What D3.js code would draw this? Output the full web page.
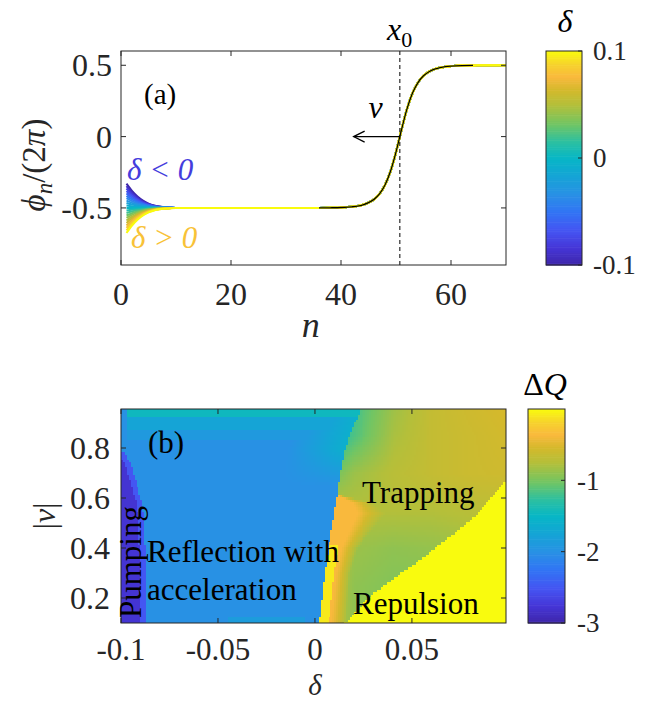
<!DOCTYPE html>
<html>
<head>
<meta charset="utf-8">
<script src="https://cdn.jsdelivr.net/npm/d3@7"></script>
<style>
  body { margin: 0; background: #fff; }
</style>
</head>
<body>
<div id="chart"></div>
<script>
// ---- panel (a): kink profile and the fan of curves near the edge ----
const nKink = [36, 38, 40, 42, 43, 44, 45, 46, 47, 48, 49, 50, 51, 52, 53, 54, 55, 56, 57, 58, 59, 60, 62, 64, 66, 68, 70];
const phiKink = [-0.500, -0.499, -0.497, -0.492, -0.487, -0.478, -0.463, -0.440, -0.401, -0.339, -0.243, -0.109,
  0.048, 0.194, 0.305, 0.379, 0.426, 0.455, 0.473, 0.483, 0.490, 0.494, 0.498, 0.499, 0.500, 0.500, 0.500];
const nFan = [1, 2, 3, 4, 5, 6, 7, 8, 9, 10];
const fanShape = [1, 0.70, 0.47, 0.30, 0.18, 0.10, 0.055, 0.03, 0.012, 0];
const deltas = [-0.1, -0.09, -0.08, -0.07, -0.06, -0.05, -0.04, -0.03, -0.02, -0.01, 0,
  0.01, 0.02, 0.03, 0.04, 0.05, 0.06, 0.07, 0.08, 0.09, 0.1];
const fanStart = [0.170, 0.153, 0.136, 0.119, 0.102, 0.085, 0.068, 0.051, 0.034, 0.017, 0,
  -0.018, -0.035, -0.053, -0.070, -0.088, -0.105, -0.123, -0.140, -0.158, -0.176];
const x0 = 50.7;
const arrowEnd = 42.3;

// ---- panel (b): region edges (v -> delta) and levels of dQ ----
const pumpEdge = [[0.1, -0.090], [0.35, -0.090], [0.57, -0.0917], [0.66, -0.095], [0.74, -0.098], [0.78, -0.101]];
const reflectEdge = [[0.1, 0.0022], [0.25, 0.0043], [0.37, 0.0063], [0.49, 0.0089], [0.61, 0.0115],
  [0.70, 0.013], [0.80, 0.0156], [0.89, 0.0197], [0.96, 0.024]];
const orangeEdge = [[0.1, 0.016], [0.3, 0.018], [0.4, 0.022], [0.48, 0.030], [0.54, 0.036], [0.58, 0.030], [0.64, 0.0]];
const repulsionEdge = [[0.1, 0.0155], [0.22, 0.030], [0.37, 0.057], [0.53, 0.083], [0.68, 0.099], [0.70, 0.2]];
const trapV = [0.10, 0.25, 0.40, 0.55, 0.70, 0.85, 0.96];
const trapD = [0, 0.02, 0.04, 0.06, 0.08, 0.1];
const trapGrid = [
  [-0.5, -0.90, -0.95, -0.95, -0.95, -0.95],
  [-0.5, -0.90, -0.95, -0.95, -0.90, -0.90],
  [-0.5, -0.85, -0.90, -0.88, -0.85, -0.80],
  [-0.6, -0.75, -0.75, -0.75, -0.72, -0.70],
  [-1.2, -0.85, -0.72, -0.65, -0.60, -0.58],
  [-1.6, -1.15, -0.80, -0.65, -0.60, -0.55],
  [-1.5, -1.20, -0.85, -0.65, -0.58, -0.52]
];
const levelPump = -2.78, levelPumpRim = -2.5, levelReflect = -2.0;
const levelOrange = -0.36, levelStrip = -0.08, levelRepulsion = 0;

// parula-like colour map
const parulaT = [0, 0.08, 0.16, 0.25, 0.33, 0.42, 0.5, 0.58, 0.66, 0.75, 0.82, 0.88, 0.94, 1];
const parulaC = ["#3e26a8", "#4535d6", "#4554f2", "#3175f4", "#2990e5", "#14a5d5", "#07b6c6",
  "#2ec09f", "#72c563", "#b4bf3a", "#d4b92c", "#f9b93d", "#f6d32c", "#f9fb0e"];
const parula = d3.scaleLinear().domain(parulaT).range(parulaC).clamp(true);

const W = 651, H = 703;
const serif = "'Liberation Serif', 'Times New Roman', Tinos, 'DejaVu Serif', serif";
const svg = d3.select("#chart").append("svg").attr("width", W).attr("height", H)
  .attr("font-family", serif).style("font-family", serif);
const ink = "#262626";

function boxAxes(g, x, y, xt, yt) {
  const [x1, x2] = x.range(), [y1, y2] = y.range();
  const tl = 5;
  xt.forEach(t => {
    g.append("line").attr("x1", x(t)).attr("x2", x(t)).attr("y1", y1).attr("y2", y1 - tl).attr("stroke", ink);
    g.append("line").attr("x1", x(t)).attr("x2", x(t)).attr("y1", y2).attr("y2", y2 + tl).attr("stroke", ink);
  });
  yt.forEach(t => {
    g.append("line").attr("x1", x1).attr("x2", x1 + tl).attr("y1", y(t)).attr("y2", y(t)).attr("stroke", ink);
    g.append("line").attr("x1", x2).attr("x2", x2 - tl).attr("y1", y(t)).attr("y2", y(t)).attr("stroke", ink);
  });
  g.append("rect").attr("x", x1).attr("y", y2).attr("width", x2 - x1).attr("height", y1 - y2)
    .attr("fill", "none").attr("stroke", ink).attr("stroke-width", 1);
}

function colorBar(sc, x, w, ticks, labels, lx) {
  const [b, t] = sc.range();
  const steps = d3.range(0, 1, 1 / 120);
  svg.append("g").selectAll("rect").data(steps).join("rect")
    .attr("x", x).attr("width", w)
    .attr("y", d => b - (d + 1 / 120) * (b - t))
    .attr("height", (b - t) / 120 + 0.6)
    .attr("fill", d => parula(d + 0.5 / 120));
  ticks.forEach((v, i) => {
    svg.append("line").attr("x1", x + w - 4).attr("x2", x + w).attr("y1", sc(v)).attr("y2", sc(v)).attr("stroke", ink);
    svg.append("text").attr("x", lx).attr("y", sc(v)).attr("dy", "0.35em")
      .attr("font-size", 27).attr("fill", ink).text(labels[i]);
  });
  svg.append("rect").attr("x", x).attr("y", t).attr("width", w).attr("height", b - t)
    .attr("fill", "none").attr("stroke", ink);
}

// ================= panel (a) =================
const xa = d3.scaleLinear().domain([0, 70]).range([121, 506]);
const ya = d3.scaleLinear().domain([-0.9, 0.6]).range([265, 51]);
const ga = svg.append("g");
ga.append("clipPath").attr("id", "clipA").append("rect")
  .attr("x", 121).attr("y", 51).attr("width", 385).attr("height", 214);

const lineA = d3.line().x(d => xa(d[0])).y(d => ya(d[1])).curve(d3.curveMonotoneX);
const colorA = d => parula((d + 0.1) / 0.2);
const series = deltas.map((d, i) => ({
  d,
  pts: nFan.map((n, k) => [n, -0.5 + fanStart[i] * fanShape[k]])
    .concat(nKink.map((n, k) => [n, phiKink[k]]))
}));
const plotA = ga.append("g").attr("clip-path", "url(#clipA)");
plotA.selectAll("path.s").data(series).join("path").attr("class", "s")
  .attr("d", s => lineA(s.pts)).attr("fill", "none")
  .attr("stroke", s => colorA(s.d)).attr("stroke-width", 2);
const blackPts = nKink.map((n, k) => [n, phiKink[k]]).filter(p => p[0] >= 36 && p[0] <= 64);
plotA.append("path").attr("d", lineA(blackPts)).attr("fill", "none").attr("stroke", "#000").attr("stroke-width", 1.3);

ga.append("line").attr("x1", xa(x0)).attr("x2", xa(x0)).attr("y1", ya(-0.9)).attr("y2", ya(0.6))
  .attr("stroke", "#000").attr("stroke-dasharray", "4,3").attr("stroke-width", 1);
ga.append("line").attr("x1", xa(x0)).attr("x2", xa(arrowEnd)).attr("y1", ya(0)).attr("y2", ya(0))
  .attr("stroke", "#000").attr("stroke-width", 1.3);
ga.append("path").attr("d", `M${xa(arrowEnd) + 11},${ya(0) - 5.5}L${xa(arrowEnd)},${ya(0)}L${xa(arrowEnd) + 11},${ya(0) + 5.5}`)
  .attr("fill", "none").attr("stroke", "#000").attr("stroke-width", 1.3);

boxAxes(ga, xa, ya, [0, 20, 40, 60], [-0.5, 0, 0.5]);
[0, 20, 40, 60].forEach(t => ga.append("text").attr("x", xa(t)).attr("y", 305)
  .attr("text-anchor", "middle").attr("font-size", 32).attr("fill", ink).text(t));
[[-0.5, "-0.5"], [0, "0"], [0.5, "0.5"]].forEach(([t, s]) => ga.append("text").attr("x", 112).attr("y", ya(t))
  .attr("dy", "0.35em").attr("text-anchor", "end").attr("font-size", 32).attr("fill", ink).text(s));

ga.append("text").attr("x", xa(34.5)).attr("y", 337).attr("text-anchor", "middle")
  .attr("font-size", 36).attr("font-style", "italic").attr("fill", ink).text("n");
const yl = ga.append("text").attr("transform", "translate(45,165) rotate(-90)")
  .attr("text-anchor", "middle").attr("font-size", 33).attr("fill", ink);
yl.append("tspan").attr("font-style", "italic").text("ϕ");
yl.append("tspan").attr("font-style", "italic").attr("font-size", 23).attr("dy", 7).text("n");
yl.append("tspan").attr("dy", -7).text("/(2");
yl.append("tspan").attr("font-style", "italic").text("π");
yl.append("tspan").text(")");

ga.append("text").attr("x", 144).attr("y", 104).attr("font-size", 29).attr("fill", "#000").text("(a)");
ga.append("text").attr("x", 127).attr("y", 180).attr("font-size", 31).attr("font-style", "italic")
  .attr("fill", parula(0.1)).text("δ < 0");
ga.append("text").attr("x", 131).attr("y", 248).attr("font-size", 31).attr("font-style", "italic")
  .attr("fill", parula(0.9)).text("δ > 0");
ga.append("text").attr("x", xa(46.3)).attr("y", 118).attr("text-anchor", "middle").attr("font-size", 32)
  .attr("font-style", "italic").attr("fill", "#000").text("v");
const xl = ga.append("text").attr("x", 387).attr("y", 40).attr("font-size", 32).attr("fill", "#000");
xl.append("tspan").attr("font-style", "italic").text("x");
xl.append("tspan").attr("font-size", 22).attr("dy", 7).text("0");

const ca = d3.scaleLinear().domain([-0.1, 0.1]).range([265, 51]);
colorBar(ca, 546, 36, [-0.1, 0, 0.1], ["-0.1", "0", "0.1"], 593);
svg.append("text").attr("x", 565).attr("y", 32).attr("text-anchor", "middle").attr("font-size", 32)
  .attr("font-style", "italic").attr("fill", "#000").text("δ");

// ================= panel (b) =================
const xb = d3.scaleLinear().domain([-0.1, 0.0985]).range([121, 506]);
const yb = d3.scaleLinear().domain([0.1, 0.956]).range([623, 409]);
const gb = svg.append("g");
gb.append("clipPath").attr("id", "clipB").append("rect")
  .attr("x", 121).attr("y", 409).attr("width", 385).attr("height", 214);

const edgeFn = pts => d3.scaleLinear().domain(pts.map(p => p[0])).range(pts.map(p => p[1])).clamp(true);
const pumpAt = edgeFn(pumpEdge), reflAt = edgeFn(reflectEdge), orAt = edgeFn(orangeEdge), repAt = edgeFn(repulsionEdge);
const trapRows = trapGrid.map(row => d3.scaleLinear().domain(trapD).range(row).clamp(true));
function trapAt(d, v) {
  const col = trapRows.map(f => f(d));
  return d3.scaleLinear().domain(trapV).range(col).clamp(true)(v);
}
function dQ(d, v) {
  const pe = pumpAt(v);
  if (v <= 0.78 && d < pe) return levelPump;
  if (v <= 0.78 && d < pe + 0.003) return levelPumpRim;
  const re = reflAt(v);
  if (d < re) {
    let q = levelReflect;
    if (v > 0.92) q = -1.45;
    else if (v > 0.87) q = -1.75;
    else if (v > 0.83) q = -1.9;
    if (v > 0.78 && d < -0.097) q = -2.4;
    if (v > 0.65) {
      const t = Math.max(0, Math.min(1, (d - (re - 0.03)) / 0.03)) * Math.max(0, Math.min(1, (v - 0.65) / 0.15));
      q = Math.max(q, levelReflect + 0.4 * t);
    }
    if (v < 0.125 && d > -0.045 && d < -0.005) q = -1.85;
    return q;
  }
  if (d >= repAt(v)) return levelRepulsion;
  if (v < 0.42 && d < re + 0.005) return levelStrip;
  const oe = orAt(v), tr = trapAt(d, v);
  if (d < oe) {
    const t = (d - re) / Math.max(1e-6, oe - re);
    return t < 0.45 ? levelOrange : levelOrange + (tr - levelOrange) * (t - 0.45) / 0.55;
  }
  return tr;
}
const dCells = d3.range(-0.0995, 0.0985, 0.001);
const vCells = d3.range(0.1, 0.9555, 0.01);
const cells = [];
vCells.forEach(v => dCells.forEach(d => cells.push({ d, v, q: dQ(d, v) })));
const colorB = q => parula((q + 3) / 3);
const cw = xb(0.001) - xb(0), ch = yb(0) - yb(0.01);
gb.append("g").attr("clip-path", "url(#clipB)").selectAll("rect").data(cells).join("rect")
  .attr("x", c => xb(c.d - 0.0005)).attr("y", c => yb(c.v + 0.005))
  .attr("width", cw + 0.6).attr("height", ch + 0.6)
  .attr("fill", c => colorB(c.q)).attr("shape-rendering", "crispEdges");

boxAxes(gb, xb, yb, [-0.1, -0.05, 0, 0.05], [0.2, 0.4, 0.6, 0.8]);
[[-0.1, "-0.1"], [-0.05, "-0.05"], [0, "0"], [0.05, "0.05"]].forEach(([t, s]) => gb.append("text")
  .attr("x", xb(t)).attr("y", 660).attr("text-anchor", "middle").attr("font-size", 31).attr("fill", ink).text(s));
[0.2, 0.4, 0.6, 0.8].forEach(t => gb.append("text").attr("x", 110).attr("y", yb(t)).attr("dy", "0.35em")
  .attr("text-anchor", "end").attr("font-size", 32).attr("fill", ink).text(t));

gb.append("text").attr("x", xb(0)).attr("y", 695).attr("text-anchor", "middle").attr("font-size", 29)
  .attr("font-style", "italic").attr("fill", ink).text("δ");
const vl = gb.append("text").attr("transform", "translate(55,516) rotate(-90)")
  .attr("text-anchor", "middle").attr("font-size", 32).attr("fill", ink);
vl.append("tspan").text("|");
vl.append("tspan").attr("font-style", "italic").text("v");
vl.append("tspan").text("|");

const lab = (x, y, s) => gb.append("text").attr("x", x).attr("y", y).attr("font-size", 31)
  .attr("fill", "#000").text(s);
lab(148, 453, "(b)");
lab(147, 562, "Reflection with");
lab(147, 600, "acceleration");
lab(362, 503, "Trapping");
lab(353, 614, "Repulsion");
gb.append("text").attr("transform", "translate(141,618) rotate(-90)").attr("font-size", 31)
  .attr("fill", "#000").text("Pumping");

const cb = d3.scaleLinear().domain([-3, 0]).range([623, 409]);
colorBar(cb, 528, 37, [-3, -2, -1], ["-3", "-2", "-1"], 577);
const ql = svg.append("text").attr("x", 545).attr("y", 395).attr("text-anchor", "middle")
  .attr("font-size", 32).attr("fill", "#000");
ql.append("tspan").text("Δ");
ql.append("tspan").attr("font-style", "italic").text("Q");
</script>
</body>
</html>
